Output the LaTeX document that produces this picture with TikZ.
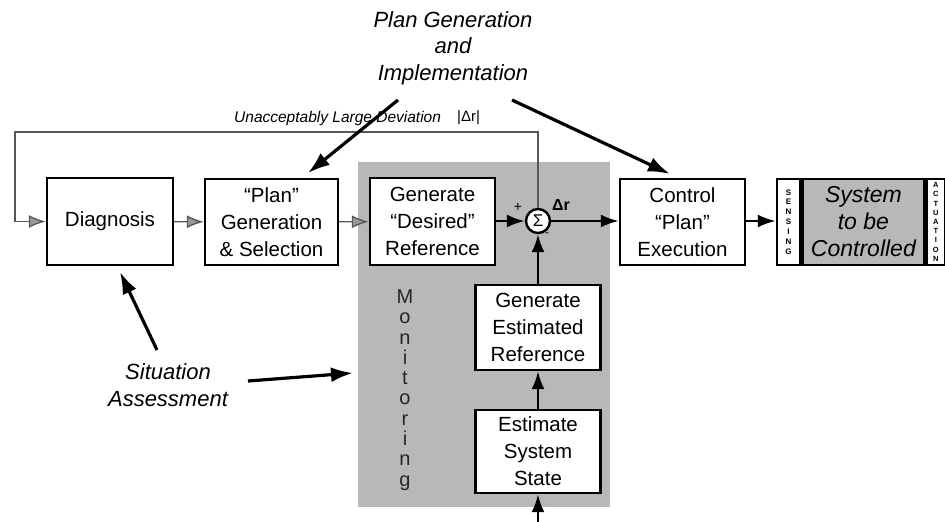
\documentclass[tikz,border=0pt]{standalone}
\usepackage{fontspec}
\setmainfont{Liberation Sans}
\usetikzlibrary{arrows.meta,calc}

\begin{document}
\begin{tikzpicture}[x=1pt,y=-1pt,
  box/.style={draw=black,line width=2.4pt,fill=white,align=center,inner sep=0pt,
    font=\fontsize{20.5}{27}\selectfont},
  flow/.style={line width=2.6pt,-{Latex[length=18pt,width=13pt]}},
  note/.style={line width=3.2pt,-{Latex[length=22pt,width=15pt]}},
  fb/.style={draw=black!65,line width=1.4pt,-{Latex[length=17pt,width=13pt,fill=black!40]}},
  shade/.style={fill=black!28},
  lbl/.style={font=\fontsize{22}{26.5}\selectfont\itshape,align=center,inner sep=0pt},
  strip/.style={box,font=\fontsize{8}{9.9}\selectfont\bfseries},
]
\useasboundingbox (0,0) rectangle (945,522);

% monitoring area
\fill[shade] (358,162) rectangle (610,507);
\node[align=center,inner sep=0pt,text=black!85,font=\fontsize{20}{20.3}\selectfont]
  (mon) at (405,390) {M\\o\\n\\i\\t\\o\\r\\i\\n\\g};

% main chain
\node[box,minimum width=126,minimum height=87] (diag) at (110,221.5) {Diagnosis};
\node[box,minimum width=133,minimum height=86] (plan) at (271.5,222) {“Plan”\\Generation\\\& Selection};
\node[box,minimum width=125,minimum height=87] (gen) at (432.5,221.5) {Generate\\“Desired”\\Reference};
\node[circle,draw,line width=2.4pt,fill=white,minimum size=24pt,inner sep=0pt,
  font=\fontsize{17}{17}\selectfont] (sum) at (538,221) {Σ};
\node[box,minimum width=125,minimum height=86] (ctrl) at (682.5,222) {Control\\“Plan”\\Execution};

% plant with sensing and actuation strips
\node[strip,minimum width=23,minimum height=86] (sens) at (788.5,222) {S\\E\\N\\S\\I\\N\\G};
\node[box,fill=black!28,minimum width=122,minimum height=86,anchor=west,
  font=\fontsize{23}{27}\selectfont\itshape] (core) at (sens.east) {System\\to be\\Controlled};
\node[strip,minimum width=18,minimum height=86,anchor=west,font=\fontsize{7.5}{9.2}\selectfont\bfseries]
  (act) at (core.east) {A\\C\\T\\U\\A\\T\\I\\O\\N};

% estimation branch
\node[box,minimum width=125,minimum height=85] (ger) at (538,327.5) {Generate\\Estimated\\Reference};
\node[box,minimum width=125,minimum height=83] (ess) at (538,451.5) {Estimate\\System\\State};
\coordinate (meas) at (538,522);

% signs at the summing junction
\node[font=\fontsize{14}{14}\selectfont] (plus) at (518,207) {+};
\node[font=\fontsize{12}{12}\selectfont] (minus) at (547,235) {-};
\node[font=\fontsize{16}{16}\selectfont\bfseries] (dr) at (561,205) {Δr};

% signal flow
\draw[fb] (diag) -- (plan);
\draw[fb] (plan) -- (gen);
\draw[flow] (gen.east |- sum) -- (sum);
\draw[flow] (sum) -- (ctrl.west |- sum);
\draw[flow] (ctrl.east |- sum) -- (sens.west |- sum);
\draw[flow] (ger) -- (sum);
\draw[flow] (ess) -- (ger);
\draw[flow] (meas) -- (ess);

% deviation feedback
\coordinate (fbL) at (15,132);
\draw[fb] (sum.north) -- (sum.north |- fbL) -- (fbL) |- (diag.west);
\node[anchor=west,inner sep=0pt,font=\fontsize{15.5}{18}\selectfont\itshape] (dev) at (234,118)
  {Unacceptably Large Deviation};
\node[anchor=west,inner sep=0pt,font=\fontsize{15}{18}\selectfont] (devr) at (457,118) {|Δr|};

% function labels
\node[lbl] (pg) at (453,48) {Plan Generation\\and\\Implementation};
\coordinate (pgL) at (398,100);
\coordinate (pgR) at (512,100);
\coordinate (pgLt) at (308,173);
\coordinate (pgRt) at (670,174);
\draw[note] (pgL) -- (pgLt);
\draw[note] (pgR) -- (pgRt);

\node[lbl] (sa) at (168,385) {Situation\\Assessment};
\coordinate (saA) at (157,350);
\coordinate (saAt) at (120,272);
\coordinate (saB) at (248,381);
\coordinate (saBt) at (353,373);
\draw[note] (saA) -- (saAt);
\draw[note] (saB) -- (saBt);
\end{tikzpicture}
\end{document}
